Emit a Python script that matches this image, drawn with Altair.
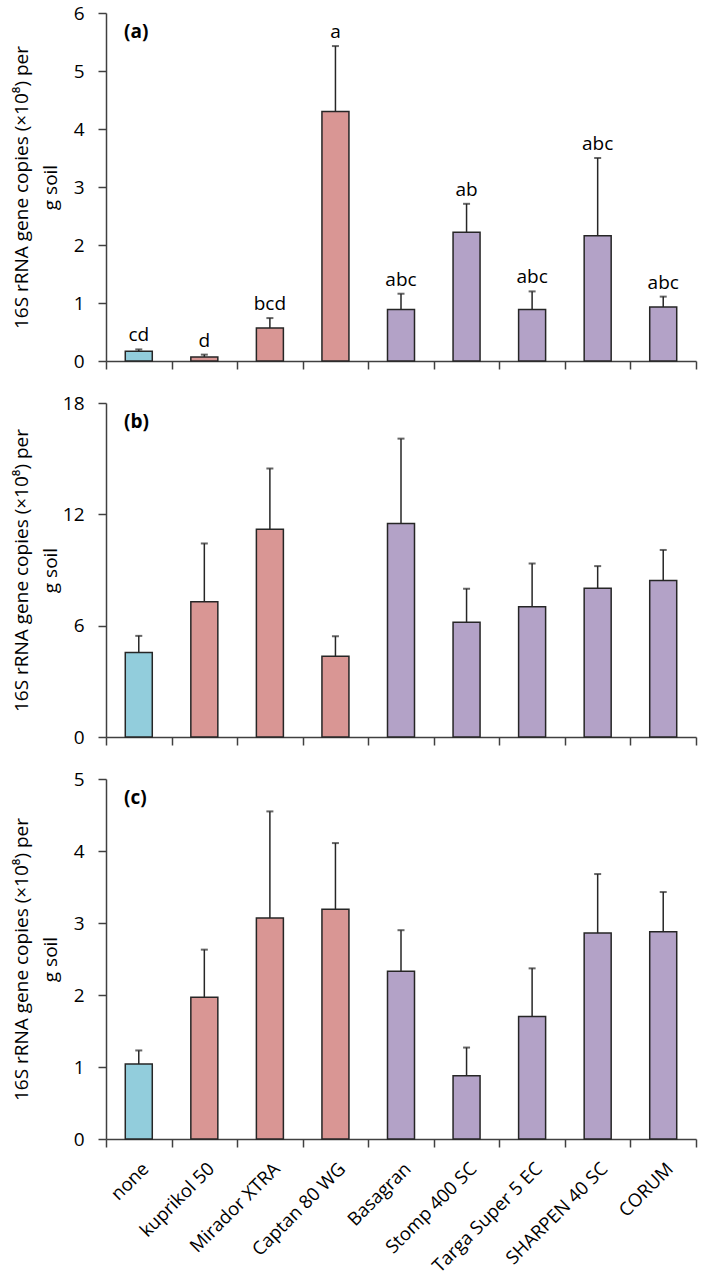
import altair as alt
import pandas as pd

categories = ["none", "kuprikol 50", "Mirador XTRA", "Captan 80 WG", "Basagran",
              "Stomp 400 SC", "Targa Super 5 EC", "SHARPEN 40 SC", "CORUM"]
groups = ["control", "fungicide", "fungicide", "fungicide", "herbicide",
          "herbicide", "herbicide", "herbicide", "herbicide"]
group_names = ["control", "fungicide", "herbicide"]
group_colors = ["#92CDDC", "#D99694", "#B3A2C7"]

a_mean = [0.17, 0.07, 0.57, 4.30, 0.89, 2.22, 0.89, 2.16, 0.93]
a_sd = [0.03, 0.04, 0.17, 1.13, 0.27, 0.49, 0.31, 1.34, 0.18]
a_letters = ["cd", "d", "bcd", "a", "abc", "ab", "abc", "abc", "abc"]

b_mean = [4.56, 7.29, 11.20, 4.35, 11.51, 6.18, 7.02, 8.01, 8.44]
b_sd = [0.89, 3.14, 3.27, 1.08, 4.57, 1.81, 2.33, 1.20, 1.64]

c_mean = [1.04, 1.97, 3.07, 3.19, 2.33, 0.88, 1.70, 2.86, 2.88]
c_sd = [0.19, 0.66, 1.48, 0.92, 0.57, 0.39, 0.67, 0.82, 0.55]

y_title = ["16S rRNA gene copies (\u00d710\u2078) per", "g soil"]
FONT = "Open Sans"
INK = "#262626"
AXC = "#404040"


def panel(mean, sd, ymax, yticks, height, tag, letters=None, bottom=False, title_pad=13):
    df = pd.DataFrame({
        "cat": categories,
        "grp": groups,
        "mean": mean,
        "upper": [m + s for m, s in zip(mean, sd)],
    })
    if letters is not None:
        df["letter"] = letters

    if bottom:
        xaxis = alt.Axis(title=None, labelAngle=-45, labelAlign="right", labelBaseline="top",
                         labelPadding=12, tickBand="extent", labelFontSize=18.5)
    else:
        xaxis = alt.Axis(title=None, labels=False, tickBand="extent")
    x_enc = alt.X("cat:N", sort=categories,
                  scale=alt.Scale(paddingInner=0, paddingOuter=0), axis=xaxis)
    y_enc = alt.Y("mean:Q", scale=alt.Scale(domain=[0, ymax], nice=False, zero=True),
                  axis=alt.Axis(values=yticks, format="d", title=y_title, titlePadding=title_pad,
                                titleFontWeight="normal", titleFontSize=19,
                                titleLineHeight=29, labelPadding=14))
    base = alt.Chart(df)
    bars = base.mark_bar(stroke=INK, strokeWidth=1.5, size=27).encode(
        x=x_enc, y=y_enc,
        color=alt.Color("grp:N", scale=alt.Scale(domain=group_names, range=group_colors), legend=None),
    )
    rule = base.mark_rule(color=INK, strokeWidth=1.5).encode(x=x_enc, y="mean:Q", y2="upper:Q")
    cap = base.mark_tick(color=INK, thickness=2, size=7, orient="horizontal").encode(x=x_enc, y="upper:Q")
    tag_df = pd.DataFrame({"tag": [tag]})
    tag_text = alt.Chart(tag_df).mark_text(fontWeight="bold", fontSize=19, align="left",
                                           baseline="middle", font=FONT, color="black").encode(
        text="tag:N", x=alt.value(18), y=alt.value(19))
    layers = [bars, rule, cap, tag_text]
    if letters is not None:
        lt = base.mark_text(fontSize=19, baseline="middle", dy=-14, font=FONT, color="black").encode(
            x=x_enc, y="upper:Q", text="letter:N")
        layers.append(lt)
    return alt.layer(*layers).properties(width=590, height=height)


pa = panel(a_mean, a_sd, 6, [0, 1, 2, 3, 4, 5, 6], 348, "(a)", letters=a_letters, title_pad=13)
pb = panel(b_mean, b_sd, 18, [0, 6, 12, 18], 334, "(b)", title_pad=2)
pc = panel(c_mean, c_sd, 5, [0, 1, 2, 3, 4, 5], 360, "(c)", bottom=True, title_pad=13)

chart = alt.vconcat(pa, pb, pc, spacing=23).properties(
    padding={"left": 12, "top": 4, "right": 10, "bottom": 0}
).configure_view(stroke=None).configure_axis(
    labelFont=FONT, titleFont=FONT, labelFontSize=19, labelColor="black", titleColor="black",
    domainColor=AXC, domainWidth=1.5, tickColor=AXC, tickWidth=1.5, tickSize=8, grid=False,
).configure_text(font=FONT)

chart.save("out.html", embed_options={"renderer": "svg", "actions": False})
